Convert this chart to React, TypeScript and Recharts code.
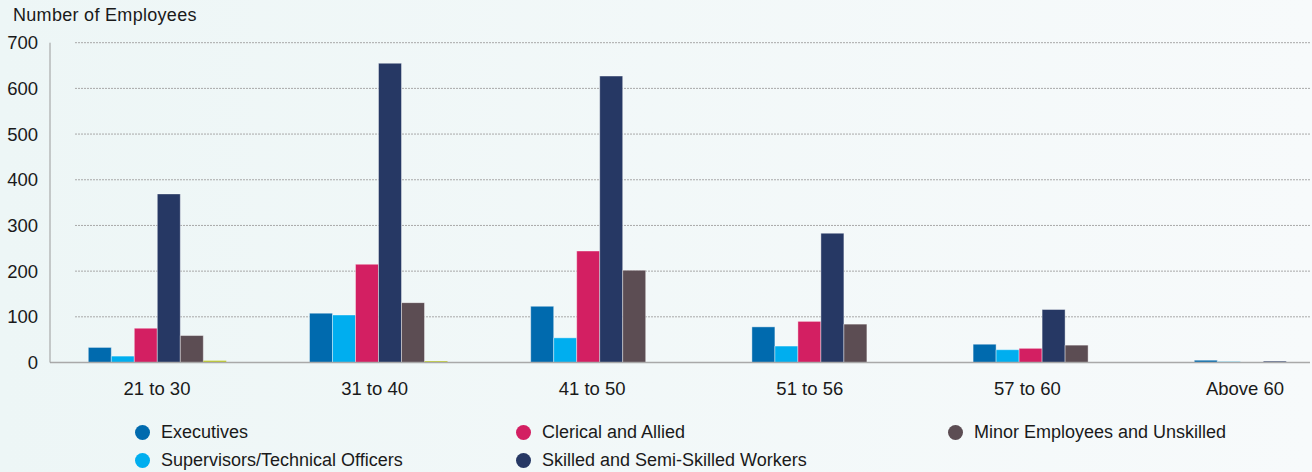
import { BarChart, Bar, XAxis, YAxis, CartesianGrid } from 'recharts'

const AGE_GROUPS = ['21 to 30', '31 to 40', '41 to 50', '51 to 56', '57 to 60', 'Above 60']

const EXECUTIVES = [33, 108, 123, 78, 40, 5]
const SUPERVISORS = [14, 104, 54, 36, 28, 2]
const CLERICAL = [75, 215, 244, 90, 31, 0]
const SKILLED = [369, 655, 627, 283, 116, 3]
const MINOR = [59, 131, 202, 84, 38, 0]
const OTHERS = [4, 3, 0, 0, 0, 0]

const Y_TICKS = [0, 100, 200, 300, 400, 500, 600, 700]

interface Series {
  key: string
  name: string
  color: string
  values: number[]
  inLegend: boolean
}

const SERIES: Series[] = [
  { key: 'executives', name: 'Executives', color: '#006aae', values: EXECUTIVES, inLegend: true },
  { key: 'supervisors', name: 'Supervisors/Technical Officers', color: '#00aeef', values: SUPERVISORS, inLegend: true },
  { key: 'clerical', name: 'Clerical and Allied', color: '#d31f62', values: CLERICAL, inLegend: true },
  { key: 'skilled', name: 'Skilled and Semi-Skilled Workers', color: '#263864', values: SKILLED, inLegend: true },
  { key: 'minor', name: 'Minor Employees and Unskilled', color: '#5c4d53', values: MINOR, inLegend: true },
  { key: 'others', name: 'Others', color: '#c2cf22', values: OTHERS, inLegend: false },
]

const data = AGE_GROUPS.map((age, i) => {
  const row: Record<string, string | number> = { age }
  SERIES.forEach((s) => {
    row[s.key] = s.values[i]
  })
  return row
})

const FONT = '"Liberation Sans", Arial, Helvetica, sans-serif'

export default function App() {
  return (
    <div
      style={{
        position: 'fixed',
        left: 0,
        top: 0,
        width: 1312,
        height: 472,
        background: 'linear-gradient(to right, #edf6f6, #f7fafb)',
        fontFamily: FONT,
        overflow: 'hidden',
      }}
    >
      {/* Axis title */}
      <div
        style={{
          position: 'absolute',
          left: 13,
          top: 5,
          fontSize: 18,
          color: '#1a1a1a',
          letterSpacing: 0.3,
          lineHeight: '20px',
        }}
      >
        Number of Employees
      </div>

      <BarChart
        width={1312}
        height={472}
        data={data}
        barGap={0}
        barSize={23}
        margin={{ top: 42.7, right: 2, left: 0, bottom: 79.5 }}
      >
        <CartesianGrid
          vertical={false}
          x={75}
          width={1235}
          stroke="#a8a8a8"
          strokeDasharray="2 1"
        />
        {/* visible axis carrying the labels */}
        <XAxis
          xAxisId="labels"
          dataKey="age"
          padding={{ left: -1.8, right: -43.8 }}
          axisLine={{ stroke: '#a9a9a9', strokeWidth: 1.5 }}
          tickLine={false}
          tickSize={6}
          tickMargin={13}
          tick={{ fill: '#1a1a1a', fontSize: 18.5, fontFamily: FONT }}
          interval={0}
        />
        {/* hidden axis that places the bar groups */}
        <XAxis
          xAxisId="bars"
          dataKey="age"
          hide
          height={0}
          padding={{ left: -3.7, right: -63.5 }}
        />
        <YAxis
          domain={[0, 700]}
          ticks={Y_TICKS}
          width={50}
          axisLine={{ stroke: '#9a9a9a' }}
          tickLine={false}
          tickSize={6}
          tickMargin={6}
          tick={{ fill: '#1a1a1a', fontSize: 18.5, fontFamily: FONT }}
          interval={0}
        />
        {SERIES.map((s) => (
          <Bar
            key={s.key}
            xAxisId="bars"
            dataKey={s.key}
            name={s.name}
            fill={s.color}
            stroke={s.inLegend ? '#ffffff' : 'none'}
            strokeOpacity={0.4}
            strokeWidth={1}
            isAnimationActive={false}
          />
        ))}
      </BarChart>

      {/* Legend */}
      <div
        style={{
          position: 'absolute',
          left: 134.5,
          top: 418,
          display: 'grid',
          gridTemplateColumns: '381px 432px auto',
          gridTemplateRows: '28px 28px',
          gridAutoFlow: 'column',
          fontSize: 18,
          color: '#1a1a1a',
        }}
      >
        {SERIES.filter((s) => s.inLegend).map((s) => (
          <div key={s.key} style={{ display: 'flex', alignItems: 'center' }}>
            <span
              style={{
                width: 15,
                height: 15,
                borderRadius: '50%',
                background: s.color,
                marginRight: 11.5,
                flexShrink: 0,
              }}
            />
            <span>{s.name}</span>
          </div>
        ))}
      </div>
    </div>
  )
}
